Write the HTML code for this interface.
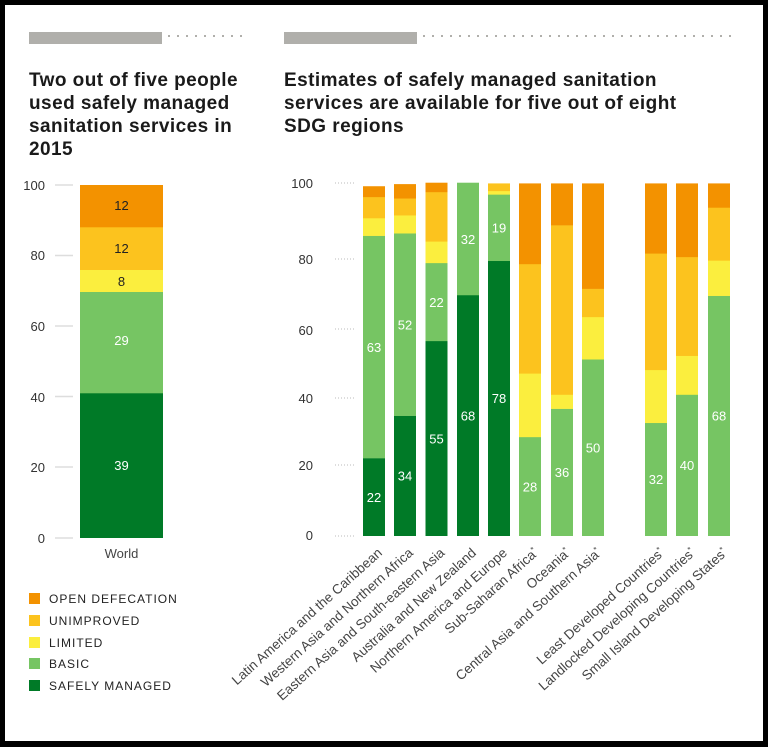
<!DOCTYPE html>
<html><head><meta charset="utf-8"><style>
html,body{margin:0;padding:0;background:#000;}
svg{display:block;}
text{font-family:"Liberation Sans",sans-serif;}
</style></head><body>
<svg width="768" height="747" xmlns="http://www.w3.org/2000/svg">
<rect x="0" y="0" width="768" height="747" fill="#000"/>
<rect x="5" y="5" width="758" height="736" fill="#fff"/>
<rect x="29" y="32" width="133" height="12" fill="#b0afab"/>
<line x1="168" y1="36" x2="246" y2="36" stroke="#b0afab" stroke-width="2" stroke-dasharray="2,7"/>
<rect x="284" y="32" width="133" height="12" fill="#b0afab"/>
<line x1="423" y1="36" x2="736" y2="36" stroke="#b0afab" stroke-width="2" stroke-dasharray="2,7"/>
<g font-size="19" fill="#1a1a1a" font-weight="bold" style="letter-spacing:0.45px">
<text x="29" y="86">Two out of five people</text>
<text x="29" y="109">used safely managed</text>
<text x="29" y="132">sanitation services in</text>
<text x="29" y="155">2015</text>
<text x="284" y="86">Estimates of safely managed sanitation</text>
<text x="284" y="109">services are available for five out of eight</text>
<text x="284" y="132">SDG regions</text>
</g>
<g font-size="13" fill="#333" text-anchor="end">
<text x="45" y="190">100</text><text x="45" y="260">80</text><text x="45" y="331">60</text><text x="45" y="402">40</text><text x="45" y="472">20</text><text x="45" y="543">0</text>
</g>
<g stroke="#ddd" stroke-width="1.5">
<line x1="55" y1="185" x2="73" y2="185"/><line x1="55" y1="255.5" x2="73" y2="255.5"/><line x1="55" y1="326" x2="73" y2="326"/><line x1="55" y1="396.5" x2="73" y2="396.5"/><line x1="55" y1="467" x2="73" y2="467"/><line x1="55" y1="538" x2="73" y2="538"/>
</g>
<rect x="80" y="185" width="83" height="42.5" fill="#f39200"/>
<rect x="80" y="227.3" width="83" height="42.9" fill="#fcc31e"/>
<rect x="80" y="270" width="83" height="22.2" fill="#fbee3e"/>
<rect x="80" y="292" width="83" height="101.5" fill="#76c563"/>
<rect x="80" y="393.3" width="83" height="144.7" fill="#007a27"/>
<g font-size="13" text-anchor="middle">
<text x="121.5" y="210" fill="#222">12</text>
<text x="121.5" y="253" fill="#222">12</text>
<text x="121.5" y="286" fill="#222">8</text>
<text x="121.5" y="345" fill="#fff">29</text>
<text x="121.5" y="470" fill="#fff">39</text>
<text x="121.5" y="558" fill="#444">World</text>
</g>
<g font-size="12" fill="#222" style="letter-spacing:1px">
<rect x="29" y="593" width="11" height="11" fill="#f39200"/><text x="49" y="603">OPEN DEFECATION</text>
<rect x="29" y="615" width="11" height="11" fill="#fcc31e"/><text x="49" y="625">UNIMPROVED</text>
<rect x="29" y="637" width="11" height="11" fill="#fbee3e"/><text x="49" y="647">LIMITED</text>
<rect x="29" y="658" width="11" height="11" fill="#76c563"/><text x="49" y="668">BASIC</text>
<rect x="29" y="680" width="11" height="11" fill="#007a27"/><text x="49" y="690">SAFELY MANAGED</text>
</g>
<g font-size="13" fill="#333" text-anchor="end">
<text x="313" y="188">100</text><text x="313" y="264">80</text><text x="313" y="335">60</text><text x="313" y="403">40</text><text x="313" y="470">20</text><text x="313" y="540">0</text>
</g>
<g stroke="#bbb" stroke-width="1" stroke-dasharray="1,2">
<line x1="335" y1="183" x2="354" y2="183"/><line x1="335" y1="259" x2="354" y2="259"/><line x1="335" y1="329" x2="354" y2="329"/><line x1="335" y1="398" x2="354" y2="398"/><line x1="335" y1="465" x2="354" y2="465"/><line x1="335" y1="536" x2="354" y2="536"/>
</g>
<g id="bars"></g>
<g id="labels" font-size="13.5" fill="#444"></g>
<g id="vals" font-size="13" fill="#fff" text-anchor="middle"></g>
</svg>
<script>
const Z=535.7,S=3.53,W=22;
const C=["#007a27","#76c563","#fbee3e","#fcc31e","#f39200"];
const xs=[363,394,425.5,457,488,519,551,582,645,676,708];
const B=[[22,85,90,96,99],[34,85.7,90.8,95.6,99.6],[55.2,77.3,83.4,97.4,100],[68.2,100,100,100,100],[77.9,96.7,97.7,99.8,99.8],
[0,28,46,77,99.8],[0,36,40,88,99.8],[0,50,62,70,99.8],[0,32,47,80,99.8],[0,40,51,79,99.8],[0,68,78,93,99.8]];
const V=[[[22,0],[63,1]],[[34,0],[52,1]],[[55,0],[22,1]],[[68,0],[32,1]],[[78,0],[19,1]],[[28,1]],[[36,1]],[[50,1]],[[32,1]],[[40,1]],[[68,1]]];
const names=["Latin America and the Caribbean","Western Asia and Northern Africa","Eastern Asia and South-eastern Asia","Australia and New Zealand","Northern America and Europe","Sub-Saharan Africa*","Oceania*","Central Asia and Southern Asia*","Least Developed Countries*","Landlocked Developing Countries*","Small Island Developing States*"];
const ns="http://www.w3.org/2000/svg";
let bars=document.getElementById("bars"),vals=document.getElementById("vals"),lab=document.getElementById("labels");
B.forEach((b,i)=>{let prev=0;b.forEach((v,k)=>{if(v>prev){let r=document.createElementNS(ns,"rect");r.setAttribute("x",xs[i]);r.setAttribute("width",W);r.setAttribute("y",Z-v*S);r.setAttribute("height",(v-prev)*S+0.3);r.setAttribute("fill",C[k]);bars.appendChild(r);}prev=Math.max(prev,v);});
 V[i].forEach(([val,k])=>{let lo=k==0?0:b[0],hi=b[k];let t=document.createElementNS(ns,"text");t.setAttribute("x",xs[i]+W/2);t.setAttribute("y",Z-(lo+hi)/2*S+5);t.textContent=val;vals.appendChild(t);});
 let t=document.createElementNS(ns,"text");let name=names[i],star=name.endsWith("*");
 let ax=xs[i]+W/2+9,ay=554;t.setAttribute("transform","translate("+ax+","+ay+") rotate(-42)");t.setAttribute("text-anchor","end");
 t.textContent=star?name.slice(0,-1):name;
 if(star){let s=document.createElementNS(ns,"tspan");s.setAttribute("font-size","8");s.setAttribute("dy","-5");s.textContent="*";t.appendChild(s);}
 lab.appendChild(t);});
</script>
</body></html>
